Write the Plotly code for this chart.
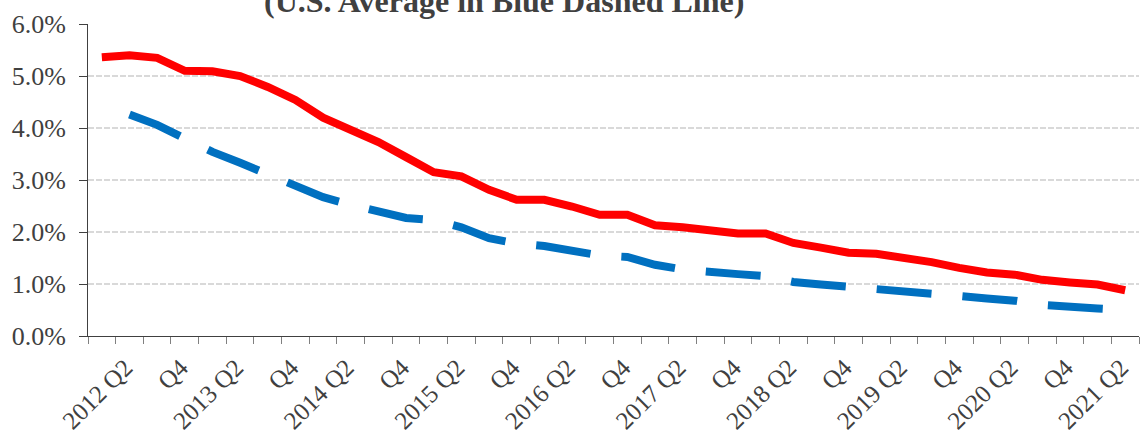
import plotly.graph_objects as go

# Categories: 2012 Q1 .. 2021 Q2
quarters = []
for yr in range(2012, 2022):
    for q in range(1, 5):
        quarters.append(f"{yr} Q{q}")
quarters = quarters[:38]

red_values = [5.36, 5.40, 5.35, 5.10, 5.09, 5.00, 4.79, 4.54, 4.20, 3.98,
              3.73, 3.44, 3.15, 3.07, 2.81, 2.62, 2.62, 2.49, 2.33, 2.33,
              2.13, 2.09, 2.04, 1.97, 1.97, 1.79, 1.70, 1.60, 1.58, 1.51,
              1.42, 1.31, 1.22, 1.18, 1.08, 1.03, 0.99, 0.88]

blue_values = [None, 4.26, 4.06, 3.80, 3.54, 3.33, 3.10, 2.86, 2.67, 2.52,
               2.39, 2.27, 2.23, 2.09, 1.88, 1.78, 1.73, 1.64, 1.55, 1.52,
               1.37, 1.28, 1.22, 1.19, 1.15, 1.04, 0.99, 0.95, 0.91, 0.88,
               0.84, 0.77, 0.72, 0.68, 0.60, 0.55, 0.53, 0.50]

tick_labels = []
for i, q in enumerate(quarters):
    if i % 2 == 1:
        yr, qq = q.split(" ")
        tick_labels.append(q if qq == "Q2" else qq)

title_text = "(U.S. Average in Blue Dashed Line)"

x_idx = list(range(len(quarters)))

fig = go.Figure()
fig.add_trace(go.Scatter(
    x=x_idx, y=red_values, mode="lines",
    line=dict(color="#FF0000", width=8),
    text=quarters, hoverinfo="text+y", showlegend=False))
fig.add_trace(go.Scatter(
    x=x_idx, y=blue_values, mode="lines",
    line=dict(color="#0070C0", width=8, dash="55px,31px"),
    text=quarters, hoverinfo="text+y", showlegend=False, connectgaps=False))

font_family = "Liberation Serif"

fig.update_layout(
    width=1140, height=436,
    margin=dict(l=88, r=1, t=24, b=100, autoexpand=False),
    paper_bgcolor="white", plot_bgcolor="white",
    font=dict(family=font_family, color="#404040"),
    annotations=[dict(
        text=f"<b>{title_text}</b>", xref="paper", yref="paper",
        x=0.396, y=1.01, xanchor="center", yanchor="bottom",
        showarrow=False, font=dict(size=32, color="#404040", family=font_family))],
)

# labels sit slightly left of the category centre, as in the original
fig.update_xaxes(
    range=[-0.5, len(quarters) - 0.5],
    tickmode="array",
    tickvals=[i - 0.15 for i in x_idx if i % 2 == 1],
    ticktext=tick_labels,
    tickangle=-45,
    ticks="",
    ticklabelstandoff=6,
    tickfont=dict(size=25, color="#404040", family=font_family),
    showgrid=False, zeroline=False, automargin=False,
    showline=True, linecolor="#404040", linewidth=1,
    minor=dict(
        tickmode="array",
        tickvals=[i - 0.5 for i in range(len(quarters) + 1)],
        ticks="outside", ticklen=7, tickcolor="#808080", tickwidth=1,
        showgrid=False),
)

fig.update_yaxes(
    range=[0, 6], dtick=1, tick0=0,
    tickformat=".1f", ticksuffix="%",
    ticks="outside", ticklen=8, tickcolor="#404040", tickwidth=1,
    ticklabelstandoff=8,
    tickfont=dict(size=26, color="#404040", family=font_family),
    showgrid=True, gridcolor="#D9D9D9", gridwidth=1.5, griddash="6px,2px",
    zeroline=False, automargin=False,
    showline=True, linecolor="#404040", linewidth=1,
)

fig.write_html(
    "out.html",
    config={"displayModeBar": False},
    post_script="document.body.style.margin='0';document.body.style.padding='0';",
)
